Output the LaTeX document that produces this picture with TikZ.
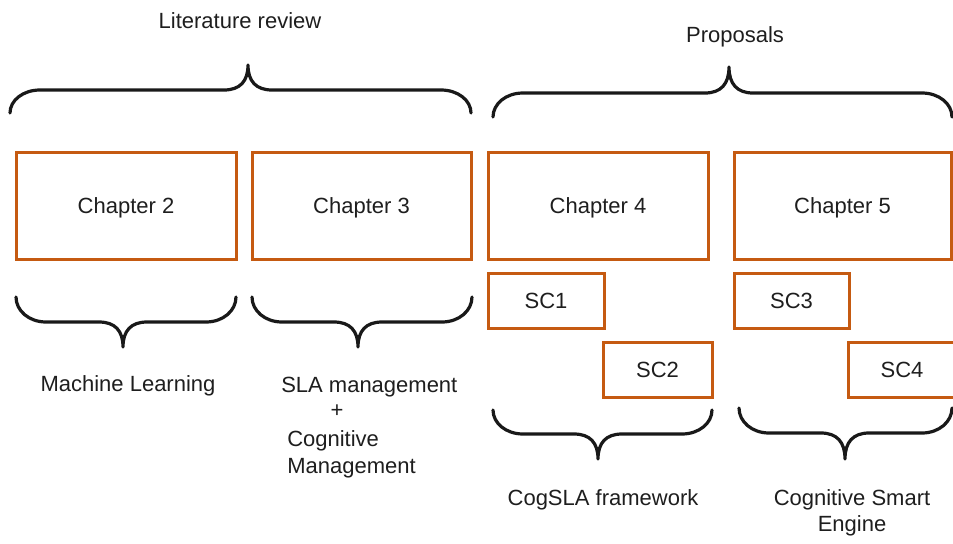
\documentclass[tikz,border=0pt]{standalone}
\usepackage{fontspec}
\setmainfont{Liberation Sans}
\definecolor{boxorange}{RGB}{197,90,17}
\definecolor{inktext}{RGB}{30,30,30}

% Curly brace: x-left, x-right, x-tip, y of the ends, y of the bar, y of the tip
\newcommand\curlybrace[6]{%
  \draw[bracestyle] (#1,#4)
    .. controls (#1,{#4+0.55*(#5-#4)}) and ({#1+13},#5) .. ({#1+30},#5)
    -- ({#3-24},#5)
    .. controls ({#3-8},#5) and (#3,{#5+0.35*(#6-#5)}) .. (#3,#6)
    .. controls (#3,{#5+0.35*(#6-#5)}) and ({#3+8},#5) .. ({#3+24},#5)
    -- ({#2-30},#5)
    .. controls ({#2-13},#5) and (#2,{#4+0.55*(#5-#4)}) .. (#2,#4);}

\begin{document}
\begin{tikzpicture}[x=0.75pt,y=-0.75pt,
  every node/.style={font=\fontsize{16.5pt}{20pt}\selectfont, text=inktext, inner sep=0pt},
  chbox/.style={draw=boxorange, line width=2.25pt, minimum height=80.25pt, text depth=0pt},
  scbox/.style={draw=boxorange, line width=2.25pt, minimum height=41.25pt},
  label/.style={anchor=base},
  bracestyle/.style={draw=black!90, line width=2.4pt, line cap=round, line join=round}]
\useasboundingbox (0,0) rectangle (953,543);

% headings
\node[label] (litrev) at (240,28) {Literature review};
\node[label] (props) at (735,42) {Proposals};

% chapter boxes
\node[chbox, minimum width=165pt] (ch2) at (126,205.5) {Chapter 2};
\node[chbox, minimum width=164.25pt] (ch3) at (361.5,205.5) {Chapter 3};
\node[chbox, minimum width=165pt] (ch4) at (598,205.5) {Chapter 4};
\node[chbox, minimum width=162.75pt] (ch5) at (842.5,205.5) {Chapter 5};

% sub-contribution boxes
\node[scbox, minimum width=87pt] (sc1) at (546,300.5) {SC1};
\node[scbox, minimum width=81.75pt] (sc2) at (657.5,369.5) {SC2};
\node[scbox, minimum width=86.25pt] (sc3) at (791.5,300.5) {SC3};
\node[scbox, minimum width=81pt] (sc4) at (902,369.5) {SC4};

% braces
\curlybrace{10}{471}{248}{113}{90}{65}
\curlybrace{493}{952}{729}{117}{93}{67}
\curlybrace{16}{236}{123}{297}{322}{347}
\curlybrace{252}{472}{358}{297}{322}{347}
\curlybrace{493}{712}{598}{410}{434}{459}
\curlybrace{739}{952}{845}{408}{433}{459}

% captions
\node[label] (ml) at (128,391) {Machine Learning};
\node[anchor=base west] (sla) at (281,392) {SLA management};
\node[label] (plus) at (337,417) {+};
\node[anchor=base west] (cog) at (287,446) {Cognitive};
\node[anchor=base west] (mgmt) at (287,473) {Management};
\node[label] (cogsla) at (603,505) {CogSLA framework};
\node[label] (cse1) at (852,505) {Cognitive Smart};
\node[label] (cse2) at (852,531) {Engine};
\end{tikzpicture}
\end{document}
